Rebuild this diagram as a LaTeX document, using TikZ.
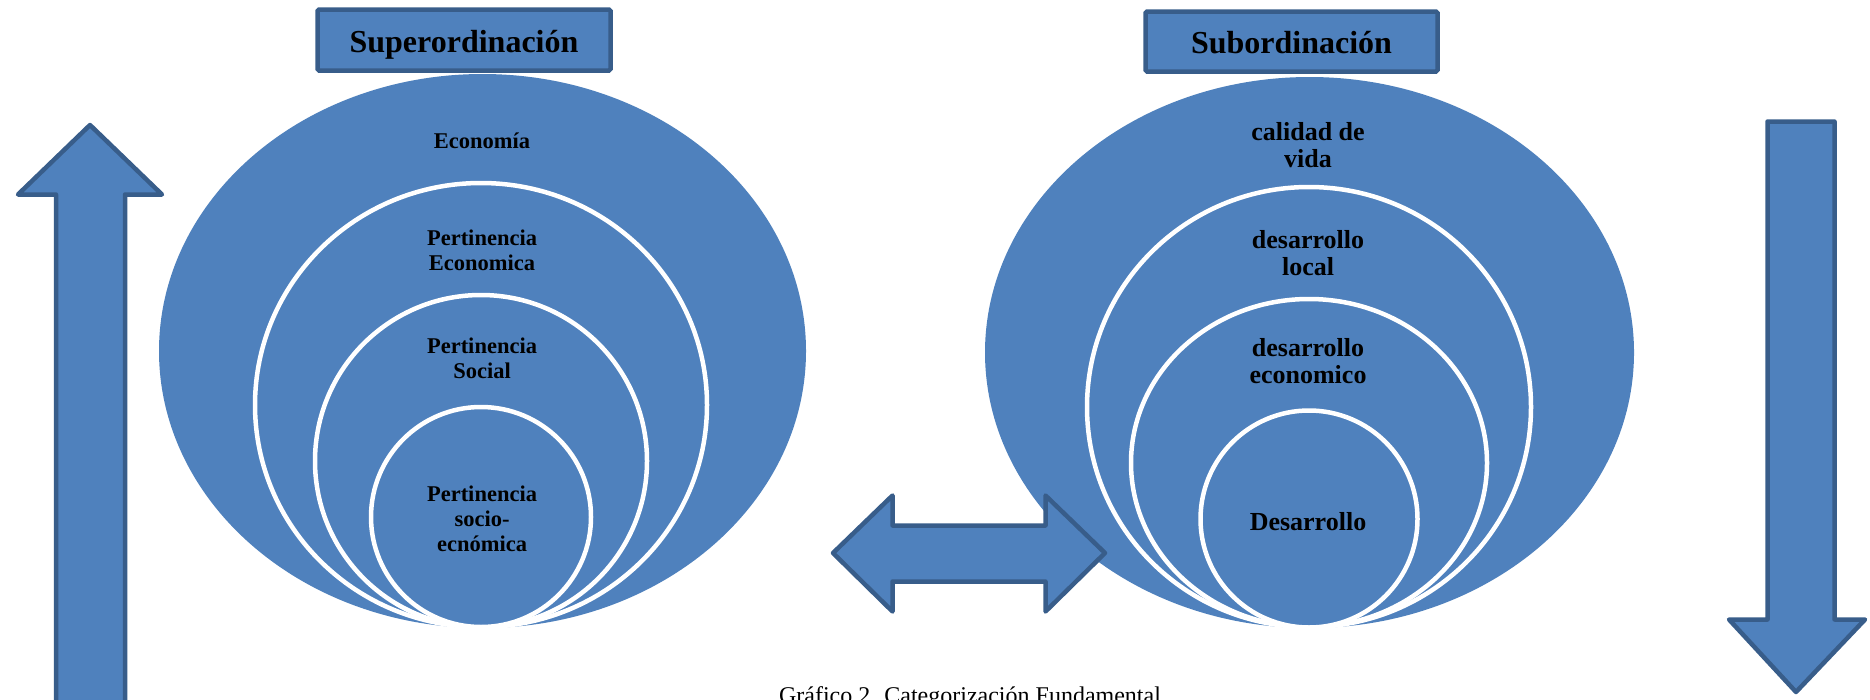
\documentclass[tikz,border=0pt]{standalone}
\usepackage{fontspec}
\setmainfont{Liberation Serif}
\definecolor{officeblue}{RGB}{79, 129, 189}
\definecolor{officeedge}{RGB}{56, 93, 138}

\begin{document}
\begin{tikzpicture}[x=1pt, y=-1pt,
        disc/.style={fill=officeblue},
        ring/.style={fill=officeblue, draw=white, line width=4.5pt},
        blockarrow/.style={fill=officeblue, draw=officeedge, line width=4.5pt, line join=round},
        titlebox/.style={fill=officeblue, draw=officeedge, line width=4.5pt, rounded corners=1.5pt,
            inner sep=0pt, text height=31pt, text depth=7pt, font=\fontsize{32}{36}\selectfont\bfseries},
        lefttext/.style={align=center, inner sep=0pt, font=\fontsize{22.5}{25}\selectfont\bfseries},
        righttext/.style={align=center, inner sep=0pt, font=\fontsize{26}{27}\selectfont\bfseries}]
            % Frame to ensure alignment
            \useasboundingbox (0,0) rectangle (1870,699);
            \clip (0,0) rectangle (1870,699);
            % Superordinacion
            \fill[disc] (482.5,351) ellipse [x radius=323.5pt, y radius=277pt];
            \filldraw[ring] (481,405) ellipse [x radius=226pt, y radius=222pt];
            \filldraw[ring] (481,461) circle [radius=166pt];
            \filldraw[ring] (481,517) circle [radius=110pt];
            \node[titlebox, minimum width=293pt, minimum height=61pt] (superord) at (464,40) {Superordinación};
            \node[lefttext] (economia) at (482,141) {Economía};
            \node[lefttext] (pertEcon) at (482,250) {Pertinencia\\Economica};
            \node[lefttext] (pertSoc) at (482,358) {Pertinencia\\Social};
            \node[lefttext] (pertSocEc) at (482,519) {Pertinencia\\socio-\\ecnómica};
            % Subordinacion
            \fill[disc] (1309.5,352.5) ellipse [x radius=324.5pt, y radius=275.5pt];
            \filldraw[ring] (1309,407) ellipse [x radius=222pt, y radius=220pt];
            \filldraw[ring] (1309,463) ellipse [x radius=178pt, y radius=164pt];
            \filldraw[ring] (1309,519) circle [radius=108.5pt];
            \node[titlebox, minimum width=292pt, minimum height=60pt] (subord) at (1291.5,41.5) {Subordinación};
            \node[righttext] (calidad) at (1308,145) {calidad de\\vida};
            \node[righttext] (desLocal) at (1308,253) {desarrollo\\local};
            \node[righttext] (desEcon) at (1308,361) {desarrollo\\economico};
            \node[righttext] (desarrollo) at (1308,522) {Desarrollo};
            % Arrows
            \draw[blockarrow] (56,720) -- (56,194.5) -- (18,194.5) -- (90,125) -- (162,194.5)
                -- (125,194.5) -- (125,720) -- cycle;
            \draw[blockarrow] (1767.5,121.5) -- (1834.5,121.5) -- (1834.5,619.5) -- (1865,619.5)
                -- (1796,692) -- (1729,619.5) -- (1767.5,619.5) -- cycle;
            \draw[blockarrow] (833,553) -- (892.5,495.5) -- (892.5,525.5) -- (1045.5,525.5) -- (1045.5,495.5)
                -- (1105,553) -- (1045.5,611.5) -- (1045.5,581.5) -- (892.5,581.5) -- (892.5,611.5) -- cycle;
            % Caption
            \node[anchor=base, inner sep=0pt, font=\fontsize{24}{28}\selectfont] (caption) at (970,703)
                {Gráfico 2. Categorización Fundamental};
        \end{tikzpicture}
\end{document}
